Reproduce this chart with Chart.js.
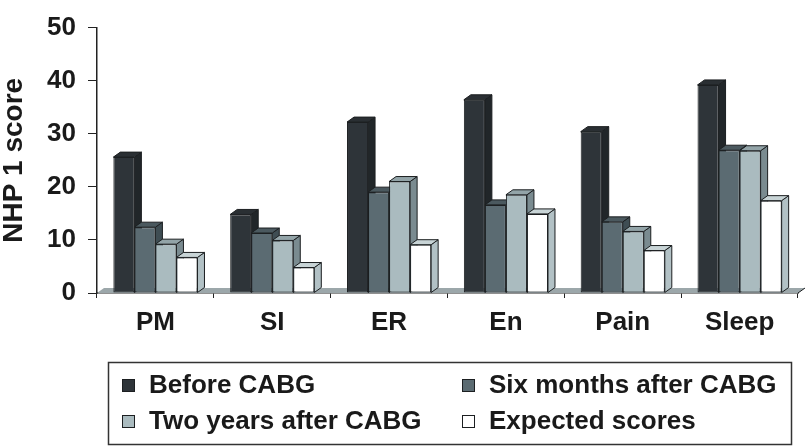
<!DOCTYPE html>
<html>
<head>
<meta charset="utf-8">
<script src="https://cdn.jsdelivr.net/npm/chart.js@4.4.1/dist/chart.umd.min.js"></script>
<style>
  html, body { margin: 0; padding: 0; background: #fff; }
  #wrap { width: 810px; height: 446px; }
</style>
</head>
<body>
<div id="wrap"><canvas id="barChart" width="810" height="446"></canvas></div>
<script>
let categories = ['PM', 'SI', 'ER', 'En', 'Pain', 'Sleep'];
let seriesNames = ['Before CABG', 'Six months after CABG', 'Two years after CABG', 'Expected scores'];
let beforeCabg = [25.6, 14.8, 32.2, 36.4, 30.4, 39.2];
let sixMonths = [12.4, 11.3, 19.0, 16.6, 13.4, 26.9];
let twoYears = [9.2, 9.9, 21.0, 18.5, 11.6, 26.8];
let expected = [6.7, 4.8, 9.1, 14.9, 8.0, 17.4];
let yTicks = [0, 10, 20, 30, 40, 50];

let frontColors = ['#2e3439', '#5b6b72', '#aabbbf', '#ffffff'];
let sideColors = ['#212629', '#3f4d53', '#7a8b90', '#b2c1c5'];
let topColors = ['#2a2f33', '#4b595f', '#93a4a8', '#c8d4d6'];
let edge = '#1c1f21';
let dx = 7, dy = 5;
let fontFamily = '"Liberation Sans", Arial, Helvetica, sans-serif';

// side and top faces for the fake 3d look, drawn before the fronts
let bars3d = {
    id: 'bars3d',
    beforeDatasetsDraw(chart) {
        let c = chart.ctx;
        let a = chart.chartArea;
        c.save();
        c.lineWidth = 1;
        c.strokeStyle = edge;

        // floor
        c.fillStyle = '#9ca7aa';
        c.beginPath();
        c.moveTo(a.left, a.bottom);
        c.lineTo(a.left + dx, a.bottom - dy);
        c.lineTo(a.right + dx, a.bottom - dy);
        c.lineTo(a.right, a.bottom);
        c.closePath();
        c.fill();
        c.beginPath();
        c.moveTo(a.right, a.bottom);
        c.lineTo(a.right + dx, a.bottom - dy);
        c.stroke();

        let metas = chart.data.datasets.map((d, i) => chart.getDatasetMeta(i));
        // sides
        metas.forEach((meta, i) => {
            meta.data.forEach(bar => {
                let r = bar.x + bar.width / 2;
                c.fillStyle = sideColors[i];
                c.beginPath();
                c.moveTo(r, bar.y);
                c.lineTo(r + dx, bar.y - dy);
                c.lineTo(r + dx, bar.base - dy);
                c.lineTo(r, bar.base);
                c.closePath();
                c.fill();
                c.stroke();
            });
        });
        // tops
        metas.forEach((meta, i) => {
            meta.data.forEach(bar => {
                let l = bar.x - bar.width / 2;
                let r = bar.x + bar.width / 2;
                c.fillStyle = topColors[i];
                c.beginPath();
                c.moveTo(l, bar.y);
                c.lineTo(l + dx, bar.y - dy);
                c.lineTo(r + dx, bar.y - dy);
                c.lineTo(r, bar.y);
                c.closePath();
                c.fill();
                c.stroke();
            });
        });
        c.restore();
    }
};

// boxed legend in two columns
let boxLegend = {
    id: 'boxLegend',
    afterDraw(chart) {
        let c = chart.ctx;
        c.save();
        c.strokeStyle = '#333';
        c.lineWidth = 1.5;
        c.strokeRect(108.5, 362.5, 683, 82);
        let cols = [122, 462];
        let rows = [379, 415];
        c.font = 'bold 26px ' + fontFamily;
        c.textBaseline = 'middle';
        c.textAlign = 'left';
        chart.data.datasets.forEach((ds, i) => {
            let x = cols[i % 2];
            let y = rows[Math.floor(i / 2)];
            c.fillStyle = ds.backgroundColor;
            c.fillRect(x, y, 13, 13);
            c.lineWidth = 1;
            c.strokeStyle = edge;
            c.strokeRect(x + 0.5, y + 0.5, 12, 12);
            c.fillStyle = '#1a1a1a';
            c.fillText(ds.label, x + 27, y + 7);
        });
        c.restore();
    }
};

let allValues = [beforeCabg, sixMonths, twoYears, expected];

let ctx = document.getElementById('barChart').getContext('2d');
let myChart = new Chart(ctx, {
    type: 'bar',
    data: {
        labels: categories,
        datasets: allValues.map((vals, i) => ({
            label: seriesNames[i],
            data: vals,
            backgroundColor: frontColors[i],
            borderColor: edge,
            borderWidth: 1,
            borderSkipped: false,
            categoryPercentage: 0.72,
            barPercentage: 1.0
        }))
    },
    options: {
        responsive: false,
        animation: false,
        layout: {
            padding: { top: 14, right: 12, left: 0, bottom: 0 }
        },
        plugins: {
            legend: { display: false },
            tooltip: { enabled: false }
        },
        scales: {
            x: {
                grid: {
                    drawOnChartArea: false,
                    drawTicks: true,
                    tickLength: 5,
                    color: '#222'
                },
                border: { color: '#222', width: 1.5 },
                ticks: {
                    color: '#1a1a1a',
                    padding: 9,
                    font: { family: fontFamily, size: 26, weight: 'bold' }
                },
                afterFit(scale) { scale.height = 153; }
            },
            y: {
                min: 0,
                max: 50,
                afterBuildTicks(scale) {
                    scale.ticks = yTicks.map(v => ({ value: v }));
                },
                grid: {
                    drawOnChartArea: false,
                    drawTicks: true,
                    tickLength: 9,
                    color: '#222'
                },
                border: { color: '#222', width: 1.5 },
                ticks: {
                    color: '#1a1a1a',
                    padding: 12,
                    font: { family: fontFamily, size: 26, weight: 'bold' }
                },
                title: {
                    display: true,
                    text: 'NHP 1 score',
                    color: '#1a1a1a',
                    padding: 0,
                    font: { family: fontFamily, size: 28, weight: 'bold', lineHeight: 1 }
                },
                afterFit(scale) { scale.width = 97; }
            }
        }
    },
    plugins: [bars3d, boxLegend]
});
</script>
</body>
</html>
